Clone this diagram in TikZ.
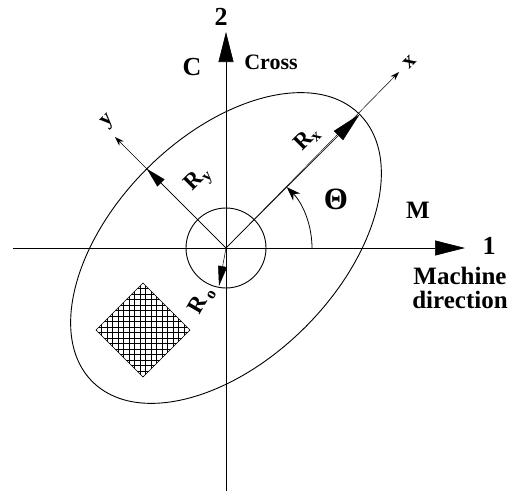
\documentclass[tikz,border=0pt]{standalone}
\usepackage{fontspec}
\setmainfont{Liberation Serif}
\usetikzlibrary{arrows.meta,calc}
\begin{document}
\begin{tikzpicture}[x=1pt,y=-1pt,
  axisline/.style={line width=0.6pt},
  thinline/.style={line width=0.5pt},
  bigtip/.style={-{Triangle[length=30pt,width=15pt]}},
  smalltip/.style={-{Stealth[length=9pt,width=6pt]}},
  lbl/.style={font=\bfseries, inner sep=0pt},
]
\useasboundingbox (0,0) rectangle (512,493);
\fill[white] (0,0) rectangle (512,493);
% key points
\coordinate (O) at (226,248);
\coordinate (hL) at (13,248);
\coordinate (hR) at (465,248);
\coordinate (vB) at (226,491);
\coordinate (vT) at (226,32);
\coordinate (Rxt) at (359.6,114.4);
\coordinate (xe) at (399,72);
\coordinate (Ryt) at (146.8,168.8);
\coordinate (ye) at (115,137);
\coordinate (Rot) at (219,286);
\coordinate (thS) at (312,248);
% axes
\draw[axisline,bigtip] (hL) -- (hR);
\draw[axisline,bigtip] (vB) -- (vT);
% ellipse and circle
\draw[line width=0.9pt, rotate around={45:(O)}] (O) ellipse (189 and 112);
\draw[line width=0.9pt] (O) circle (40);
% x and y directions
\draw[thinline,smalltip] (O) -- (xe);
\draw[thinline,smalltip] (O) -- (ye);
\draw[thinline,-{Triangle[length=30pt,width=13pt]}] (O) -- (Rxt);
\draw[thinline,-{Triangle[length=20pt,width=10pt]}] (O) -- (Ryt);
\draw[thinline,-{Triangle[length=20pt,width=9pt]}] (O) -- (Rot);
% theta arc
\draw[line width=0.8pt,-{Stealth[length=14pt,width=10pt]}] (thS) arc[start angle=0,end angle=-45,radius=86];
% hatched diamond
\coordinate (dT) at (143,283);
\coordinate (dR) at (190,330);
\coordinate (dB) at (143,377);
\coordinate (dL) at (96,330);
\begin{scope}
\clip (dT) -- (dR) -- (dB) -- (dL) -- cycle;
\foreach \k in {0,5.5,...,99} {
  \draw[line width=0.8pt] (96+\k,283) -- (96+\k,377);
  \draw[line width=0.8pt] (96,283+\k) -- (190,283+\k);
}
\end{scope}
\draw[line width=0.5pt] (dT) -- (dR) -- (dB) -- (dL) -- cycle;
% labels
\node[lbl,font=\bfseries\fontsize{26}{26}\selectfont] (n2) at (221,17) {2};
\node[lbl,font=\bfseries\fontsize{26}{26}\selectfont] (nC) at (192,67) {C};
\node[lbl,font=\bfseries\fontsize{22}{22}\selectfont] (ncross) at (271,62) {Cross};
\node[lbl,font=\bfseries\fontsize{22}{22}\selectfont,rotate=45] (nx) at (410,62) {x};
\node[lbl,font=\bfseries\fontsize{22}{22}\selectfont,rotate=45] (ny) at (108,122) {y};
\node[lbl,font=\bfseries\fontsize{23}{23}\selectfont,rotate=45] (nRx) at (307,139) {R\textsubscript{x}};
\node[lbl,font=\bfseries\fontsize{23}{23}\selectfont,rotate=45] (nRy) at (199,180) {R\textsubscript{y}};
\node[lbl,font=\bfseries\fontsize{23}{23}\selectfont,rotate=60] (nRo) at (202,301) {R\kern3pt\textsubscript{o}};
\node[lbl,font=\bfseries\fontsize{31}{31}\selectfont] (nth) at (336,199) {Θ};
\node[lbl,font=\bfseries\fontsize{25}{25}\selectfont] (nM) at (418,210) {M};
\node[lbl,font=\bfseries\fontsize{26}{26}\selectfont] (n1) at (489,246) {1};
\node[lbl,font=\bfseries\fontsize{25}{24}\selectfont,align=center] (nmd) at (460,288) {Machine\\direction};
\end{tikzpicture}
\end{document}
